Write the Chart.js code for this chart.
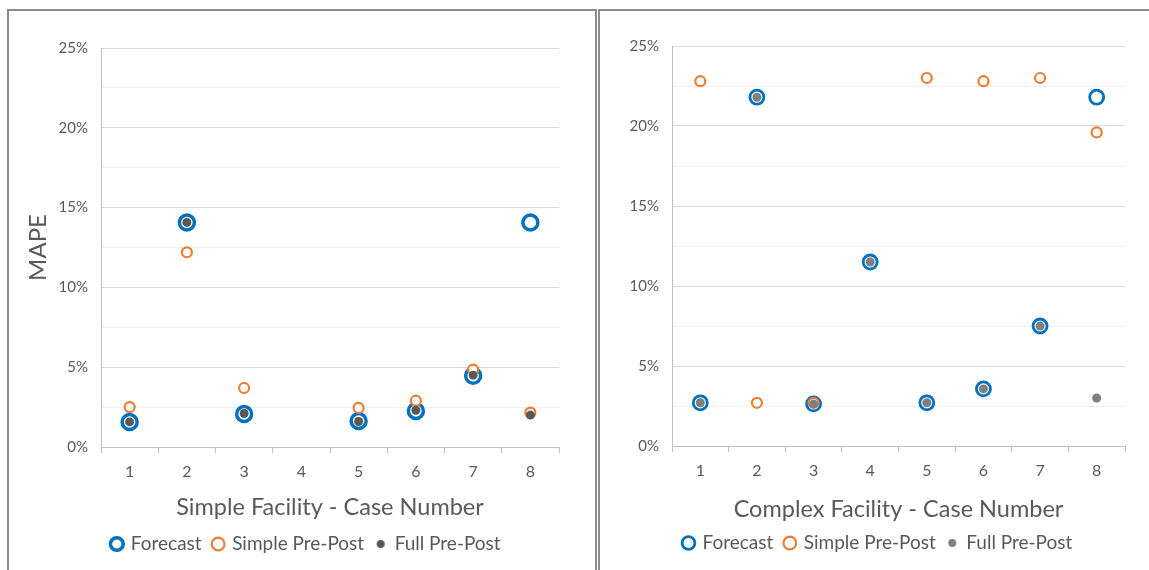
<!DOCTYPE html>
<html>
<head>
<meta charset="utf-8">
<script src="https://cdn.jsdelivr.net/npm/chart.js@4.4.1/dist/chart.umd.min.js"></script>
<style>
  body { margin: 0; background: #fff; width: 1149px; height: 570px; overflow: hidden; position: relative; }
  .panel { position: absolute; top: 9px; height: 620px; border: 2px solid #8c8c8c; box-sizing: border-box; }
  #leftPanel { left: 7px; width: 590px; }
  #rightPanel { left: 598px; width: 620px; }
  canvas { position: absolute; top: 11px; }
  #simpleChart { left: 9px; }
  #complexChart { left: 601px; }
</style>
</head>
<body>
<div class="panel" id="leftPanel"></div>
<div class="panel" id="rightPanel"></div>
<canvas id="simpleChart" width="586" height="559"></canvas>
<canvas id="complexChart" width="548" height="559"></canvas>

<script>
// -------------------------
// Data (MAPE, in %)
// -------------------------
const caseNumbers = ["1", "2", "3", "4", "5", "6", "7", "8"];
const seriesNames = ["Forecast", "Simple Pre-Post", "Full Pre-Post"];

// Simple facility
const simpleForecast = [1.57, 14.07, 2.07, null, 1.63, 2.26, 4.46, 14.07];
const simpleSimplePrePost = [2.5, 12.2, 3.7, null, 2.45, 2.9, 4.85, 2.15];
const simpleFullPrePost = [1.57, 14.07, 2.1, null, 1.6, 2.3, 4.5, 2.0];

// Complex facility
const complexForecast = [2.7, 21.8, 2.63, 11.5, 2.7, 3.57, 7.5, 21.8];
const complexSimplePrePost = [22.8, 2.7, 2.7, null, 23.0, 22.8, 23.0, 19.6];
const complexFullPrePost = [2.7, 21.8, 2.63, 11.5, 2.7, 3.57, 7.5, 3.0];

const yMin = 0;
const yMax = 25;
const yStep = 2.5;

// -------------------------
// Helpers
// -------------------------
const FONT = "Lato, 'Open Sans', sans-serif";
const TEXT = "#595959";

function dotImage(r, color) {
  const c = document.createElement("canvas");
  c.width = c.height = r * 2 + 2;
  const g = c.getContext("2d");
  g.fillStyle = color;
  g.beginPath();
  g.arc(r + 1, r + 1, r, 0, Math.PI * 2);
  g.fill();
  return c;
}

function buildChart(id, cfg) {
  return new Chart(document.getElementById(id), {
    type: "line",
    data: {
      labels: caseNumbers,
      datasets: [
        {
          label: seriesNames[0], data: cfg.forecast, order: 3, showLine: false,
          pointRadius: cfg.fcRadius, pointBorderWidth: cfg.fcBorder,
          pointBorderColor: "#0070c0", pointBackgroundColor: "#ffffff",
        },
        {
          label: seriesNames[1], data: cfg.simple, order: 2, showLine: false,
          pointRadius: 5, pointBorderWidth: 2.2,
          pointBorderColor: "#ed7d31", pointBackgroundColor: "#ffffff",
        },
        {
          label: seriesNames[2], data: cfg.full, order: 1, showLine: false,
          pointRadius: 4.5, pointBorderWidth: 0,
          pointBorderColor: cfg.fullColor, pointBackgroundColor: cfg.fullColor,
        },
      ],
    },
    options: {
      responsive: false,
      animation: false,
      layout: { padding: cfg.padding },
      plugins: {
        tooltip: { enabled: false },
        legend: {
          position: "bottom",
          fullSize: cfg.legendFull,
          align: cfg.legendAlign,
          labels: {
            usePointStyle: true,
            boxWidth: 9,
            boxHeight: 9,
            padding: 12,
            color: TEXT,
            font: { family: FONT, size: 19 },
            sort: (a, b) => a.datasetIndex - b.datasetIndex,
            generateLabels: chart => {
              const items = Chart.defaults.plugins.legend.labels.generateLabels(chart);
              items.forEach(it => {
                if (it.datasetIndex === 2) it.pointStyle = dotImage(4, cfg.fullColor);
              });
              return items;
            },
          },
        },
      },
      scales: {
        x: {
          type: "category",
          offset: true,
          afterFit: s => { s.height = cfg.xHeight; },
          grid: { offset: true, drawOnChartArea: false, drawTicks: true, tickLength: 6, color: "#bfbfbf" },
          border: { display: true, color: "#bfbfbf" },
          ticks: { color: TEXT, font: { family: FONT, size: 16 }, padding: 9 },
          title: {
            display: true, text: cfg.xTitle, color: TEXT,
            font: { family: FONT, size: 23.5 }, padding: { top: 0, bottom: cfg.xTitlePad },
          },
        },
        y: {
          min: yMin,
          max: yMax,
          afterFit: s => { s.width = cfg.yWidth; },
          grid: {
            drawTicks: false,
            color: c => (c.tick.value % 5 === 0 ? "#d9d9d9" : "#f0f0f0"),
          },
          border: { display: true, color: "#bfbfbf" },
          ticks: {
            stepSize: yStep,
            padding: 13,
            color: TEXT,
            font: { family: FONT, size: 15 },
            callback: v => (v % 5 === 0 ? `${v}%` : ""),
          },
          title: {
            display: !!cfg.yTitle, text: cfg.yTitle || "", color: TEXT,
            font: { family: FONT, size: 24 }, padding: { top: cfg.yTitlePad || 0, bottom: 0 },
          },
        },
      },
    },
  });
}

// -------------------------
// Charts
// -------------------------
buildChart("simpleChart", {
  forecast: simpleForecast,
  simple: simpleSimplePrePost,
  full: simpleFullPrePost,
  fcRadius: 7.5,
  fcBorder: 3.5,
  fullColor: "#595959",
  xTitle: "Simple Facility - Case Number",
  yTitle: "MAPE",
  yTitlePad: -30.4,
  padding: { left: 45, right: 36, top: 37, bottom: 6.5 },
  yWidth: 47,
  xHeight: 75.5,
  xTitlePad: 1,
  legendFull: true,
  legendAlign: "center",
});

buildChart("complexChart", {
  forecast: complexForecast,
  simple: complexSimplePrePost,
  full: complexFullPrePost,
  fcRadius: 7,
  fcBorder: 2.8,
  fullColor: "#7f7f7f",
  xTitle: "Complex Facility - Case Number",
  yTitle: null,
  padding: { left: 0, right: 24, top: 35, bottom: 7.5 },
  yWidth: 71,
  xHeight: 75.5,
  xTitlePad: -2,
  legendFull: false,
  legendAlign: "start",
});
</script>
</body>
</html>
